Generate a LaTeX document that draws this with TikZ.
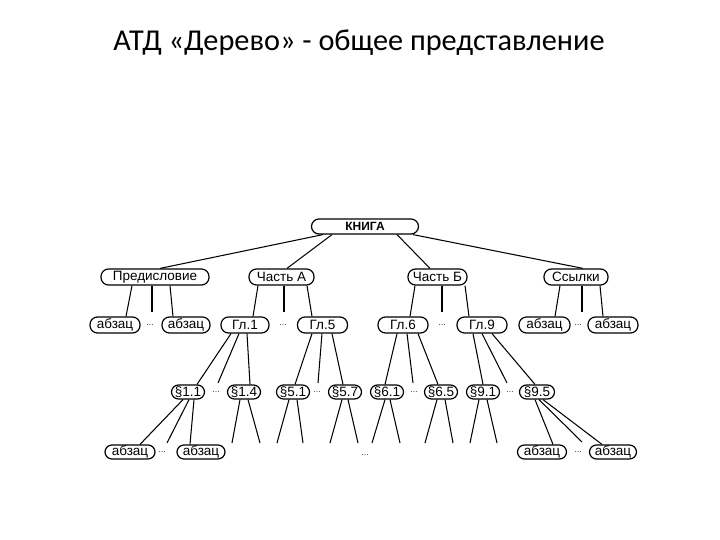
\documentclass[tikz,border=0pt]{standalone}
\usepackage{fontspec}
\setmainfont{Liberation Sans}
\newfontfamily\titlefont{Carlito}
\begin{document}
\begin{tikzpicture}[x=1pt,y=-1pt,
  bx/.style={draw, line width=1.2pt, rounded corners=7.5pt, minimum height=16pt, inner sep=0pt, font=\fontsize{13.5}{14}\selectfont},
  sx/.style={draw, line width=1.2pt, rounded corners=7pt, minimum height=14pt, minimum width=33pt, inner sep=0pt, font=\fontsize{13.5}{14}\selectfont},
  ln/.style={line width=1.05pt},
  dt/.style={inner sep=0pt, font=\fontsize{9}{9}\selectfont, text=black!75},
  ttl/.style={inner sep=0pt, font=\titlefont\fontsize{30.3}{34}\selectfont}]
\useasboundingbox (0,0) rectangle (720,540);
\node[ttl] (title) at (359,43) {АТД «Дерево» - общее представление};
% level 0
\node[bx, minimum height=15pt, minimum width=107pt, font=\bfseries\fontsize{12}{14}\selectfont] (kn) at (365,226.5) {КНИГА};
% level 1
\node[bx, minimum width=108pt] (pr) at (155,277) {Предисловие};
\node[bx, minimum width=65pt] (ca) at (281.5,277) {Часть А};
\node[bx, minimum width=59pt] (cb) at (437.5,277) {Часть Б};
\node[bx, minimum width=64pt] (ss) at (576,277) {Ссылки};
% level 2
\node[bx, minimum width=50pt] (a1) at (115,325) {абзац};
\node[bx, minimum width=48pt] (a2) at (186,325) {абзац};
\node[bx, minimum width=48pt] (g1) at (245,325) {Гл.1};
\node[bx, minimum width=50pt] (g5) at (322.5,325) {Гл.5};
\node[bx, minimum width=50pt] (g6) at (403,325) {Гл.6};
\node[bx, minimum width=50pt] (g9) at (482,325) {Гл.9};
\node[bx, minimum width=51pt] (a3) at (544.5,325) {абзац};
\node[bx, minimum width=50pt] (a4) at (613,325) {абзац};
\node[dt] (d1) at (150,325) {...};
\node[dt] (d2) at (283,325) {...};
\node[dt] (d3) at (442,325) {...};
\node[dt] (d4) at (578,325) {...};
% level 3
\node[sx] (s11) at (188,392) {§1.1};
\node[sx] (s14) at (244,392) {§1.4};
\node[sx] (s51) at (293,392) {§5.1};
\node[sx] (s57) at (345,392) {§5.7};
\node[sx] (s61) at (387,392) {§6.1};
\node[sx] (s65) at (441,392) {§6.5};
\node[sx] (s91) at (483,392) {§9.1};
\node[sx, minimum width=35pt] (s95) at (537,392) {§9.5};
\node[dt] (d5) at (216,392) {...};
\node[dt] (d6) at (317,392) {...};
\node[dt] (d7) at (414,392) {...};
\node[dt] (d8) at (510,392) {...};
% level 4
\node[sx, minimum width=50pt] (b1) at (130,452) {абзац};
\node[sx, minimum width=48pt] (b2) at (201,452) {абзац};
\node[sx, minimum width=49pt] (b3) at (542,452) {абзац};
\node[sx, minimum width=47pt] (b4) at (613,452) {абзац};
\node[dt] (d9) at (162,452) {...};
\node[dt] (d10) at (578,452) {...};
\node[dt] (d11) at (365,455) {...};
% free ends
\coordinate (e1) at (152,312);
\coordinate (e2) at (284,312);
\coordinate (e3) at (442,312);
\coordinate (e4) at (582,312);
\coordinate (f1) at (218,383);
\coordinate (f2) at (318,383);
\coordinate (f3) at (413,383);
\coordinate (f4) at (507,383);
\coordinate (h1) at (167,443);
\coordinate (h2) at (582,442);
\coordinate (t1) at (232,443); \coordinate (t2) at (260,443);
\coordinate (t3) at (277,443); \coordinate (t4) at (303,443);
\coordinate (t5) at (330,443); \coordinate (t6) at (358,443);
\coordinate (t7) at (372,443); \coordinate (t8) at (400,443);
\coordinate (t9) at (425,443); \coordinate (t10) at (453,443);
\coordinate (t11) at (470,443); \coordinate (t12) at (497,443);
% level 0 -> 1
\draw[ln] ([xshift=-42pt]kn.south) -- ([xshift=5pt]pr.north);
\draw[ln] ([xshift=-33pt]kn.south) -- ([xshift=5.5pt]ca.north);
\draw[ln] ([xshift=32pt]kn.south) -- ([xshift=-7.5pt]cb.north);
\draw[ln] ([xshift=48pt]kn.south) -- ([xshift=7pt]ss.north);
% level 1 -> 2
\draw[ln] ([xshift=-23pt]pr.south) -- ([xshift=11pt]a1.north);
\draw[ln] ([xshift=-3pt]pr.south) -- (e1);
\draw[ln] ([xshift=15pt]pr.south) -- ([xshift=-13pt]a2.north);
\draw[ln] ([xshift=-23.5pt]ca.south) -- ([xshift=8pt]g1.north);
\draw[ln] ([xshift=2.5pt]ca.south) -- (e2);
\draw[ln] ([xshift=25.5pt]ca.south) -- ([xshift=-10.5pt]g5.north);
\draw[ln] ([xshift=-22.5pt]cb.south) -- ([xshift=7pt]g6.north);
\draw[ln] ([xshift=4.5pt]cb.south) -- (e3);
\draw[ln] ([xshift=27.5pt]cb.south) -- ([xshift=-13pt]g9.north);
\draw[ln] ([xshift=-16pt]ss.south) -- ([xshift=10.5pt]a3.north);
\draw[ln] ([xshift=6pt]ss.south) -- (e4);
\draw[ln] ([xshift=24pt]ss.south) -- ([xshift=-10pt]a4.north);
% level 2 -> 3
\draw[ln] ([xshift=-14pt]g1.south) -- ([xshift=9pt]s11.north);
\draw[ln] ([xshift=-6pt]g1.south) -- (f1);
\draw[ln] ([xshift=2pt]g1.south) -- ([xshift=6pt]s14.north);
\draw[ln] ([xshift=-10.5pt]g5.south) -- ([xshift=2pt]s51.north);
\draw[ln] ([xshift=-0.5pt]g5.south) -- (f2);
\draw[ln] ([xshift=9.5pt]g5.south) -- ([xshift=-2pt]s57.north);
\draw[ln] ([xshift=-6pt]g6.south) -- ([xshift=-2pt]s61.north);
\draw[ln] ([xshift=4pt]g6.south) -- (f3);
\draw[ln] ([xshift=15pt]g6.south) -- ([xshift=-3pt]s65.north);
\draw[ln] ([xshift=-9pt]g9.south) -- (s91.north);
\draw[ln] ([xshift=0pt]g9.south) -- (f4);
\draw[ln] ([xshift=10pt]g9.south) -- ([xshift=-2pt]s95.north);
% level 3 -> 4
\draw[ln] ([xshift=-5pt]s11.south) -- ([xshift=10pt]b1.north);
\draw[ln] ([xshift=1pt]s11.south) -- (h1);
\draw[ln] ([xshift=6pt]s11.south) -- ([xshift=-11pt]b2.north);
\draw[ln] ([xshift=-2pt]s95.south) -- ([xshift=11pt]b3.north);
\draw[ln] ([xshift=2pt]s95.south) -- (h2);
\draw[ln] ([xshift=6pt]s95.south) -- ([xshift=-11pt]b4.north);
\draw[ln] ([xshift=-4pt]s14.south) -- (t1);
\draw[ln] ([xshift=4pt]s14.south) -- (t2);
\draw[ln] ([xshift=-4pt]s51.south) -- (t3);
\draw[ln] ([xshift=4pt]s51.south) -- (t4);
\draw[ln] ([xshift=-3pt]s57.south) -- (t5);
\draw[ln] ([xshift=3pt]s57.south) -- (t6);
\draw[ln] ([xshift=-2pt]s61.south) -- (t7);
\draw[ln] ([xshift=3pt]s61.south) -- (t8);
\draw[ln] ([xshift=-4pt]s65.south) -- (t9);
\draw[ln] ([xshift=4pt]s65.south) -- (t10);
\draw[ln] ([xshift=-4pt]s91.south) -- (t11);
\draw[ln] ([xshift=4pt]s91.south) -- (t12);
\end{tikzpicture}
\end{document}
